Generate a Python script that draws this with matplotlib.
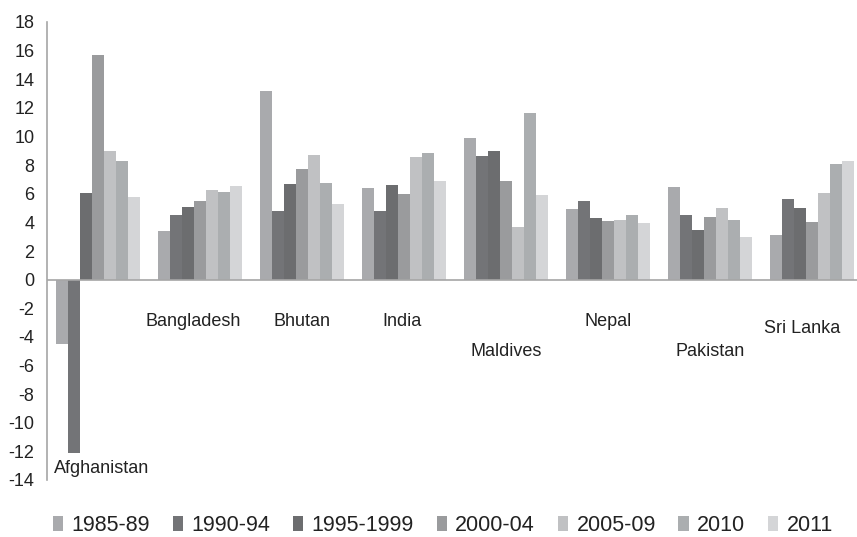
import numpy as np
import matplotlib.pyplot as plt

plt.rcParams['font.family'] = ['Liberation Sans', 'DejaVu Sans']
plt.rcParams['axes.unicode_minus'] = False

countries = ['Afghanistan', 'Bangladesh', 'Bhutan', 'India',
             'Maldives', 'Nepal', 'Pakistan', 'Sri Lanka']
periods = ['1985-89', '1990-94', '1995-1999', '2000-04', '2005-09', '2010', '2011']

# growth values per period, one entry per country
g_1985_89 = [-4.5, 3.4, 13.15, 6.4, 9.9, 4.9, 6.45, 3.15]
g_1990_94 = [-12.1, 4.55, 4.8, 4.8, 8.65, 5.5, 4.55, 5.65]
g_1995_99 = [6.05, 5.05, 6.7, 6.6, 9.0, 4.3, 3.45, 5.0]
g_2000_04 = [15.7, 5.5, 7.75, 6.0, 6.9, 4.1, 4.35, 4.0]
g_2005_09 = [9.0, 6.25, 8.7, 8.55, 3.65, 4.15, 5.0, 6.05]
g_2010 = [8.3, 6.1, 6.75, 8.85, 11.65, 4.55, 4.15, 8.1]
g_2011 = [5.8, 6.55, 5.25, 6.9, 5.9, 3.95, 3.0, 8.3]

series = [g_1985_89, g_1990_94, g_1995_99, g_2000_04, g_2005_09, g_2010, g_2011]
colors = ['#a9aaad', '#737477', '#6c6d6f', '#9a9b9d', '#c0c1c3', '#abaeb0', '#d4d5d7']

# category label heights (below the zero line)
label_y = [-13.2, -2.95, -2.95, -2.95, -5.0, -2.95, -5.0, -3.4]
label_dx = [0.04, -0.07, 0.0, -0.02, 0.0, 0.0, 0.0, -0.1]

fig = plt.figure(figsize=(8.57, 5.37), dpi=100)
ax = fig.add_axes([47 / 857, 57 / 537, 816 / 857, 458 / 537])

x = np.arange(len(countries))
width = 0.1176
for i, (vals, c, name) in enumerate(zip(series, colors, periods)):
    ax.bar(x + (i - 3) * width, vals, width, color=c, label=name, linewidth=0)

for xi, name, ly, dx in zip(x, countries, label_y, label_dx):
    ax.text(xi + dx, ly, name, ha='center', va='center', fontsize=13, color='#222222')

ax.set_xlim(-0.5, len(countries) - 0.5)
ax.set_ylim(-14, 18)
ax.set_yticks(np.arange(-14, 19, 2))
ax.tick_params(axis='y', length=0, pad=9, labelsize=13, labelcolor='#222222')
ax.set_xticks([])
ax.axhline(0, color='#a6a6a6', linewidth=1.2)
for side in ['top', 'right', 'bottom']:
    ax.spines[side].set_visible(False)
ax.spines['left'].set_color('#a6a6a6')
ax.spines['left'].set_linewidth(1.2)

fig.legend(loc='lower left', bbox_to_anchor=(53 / 857, 1 / 537), ncol=7, frameon=False,
           fontsize=15.5, handlelength=0.47, handleheight=0.65, handletextpad=0.4,
           columnspacing=1.05, borderaxespad=0, borderpad=0, labelcolor='#222222')

fig.savefig('out.png', dpi=100)
